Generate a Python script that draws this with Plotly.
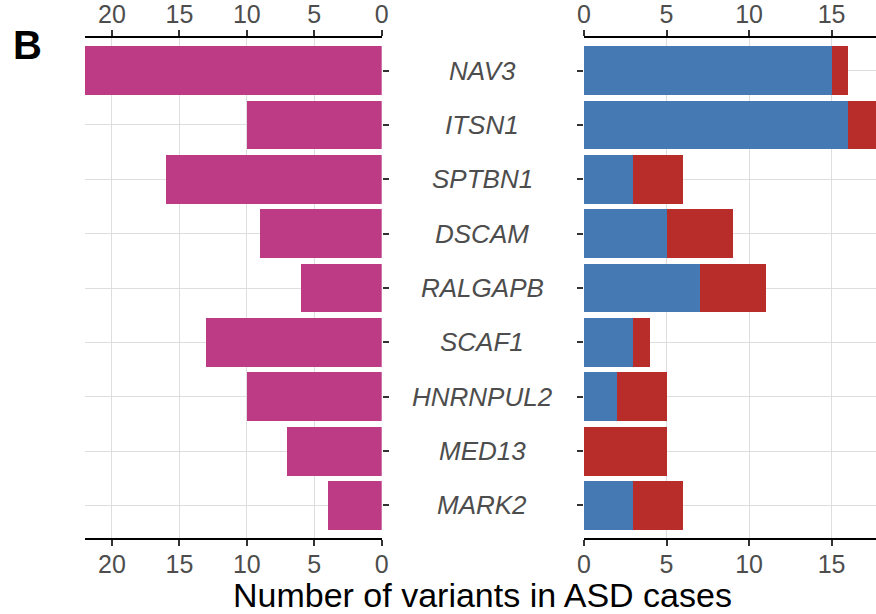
import plotly.graph_objects as go

genes = ["NAV3", "ITSN1", "SPTBN1", "DSCAM", "RALGAPB", "SCAF1", "HNRNPUL2", "MED13", "MARK2"]
left_counts = [22, 10, 16, 9, 6, 13, 10, 7, 4]
right_blue = [15, 16, 3, 5, 7, 3, 2, 0, 3]
right_red = [1, 2, 3, 4, 4, 1, 3, 5, 3]
x_ticks = [0, 5, 10, 15, 20]
panel_label = "B"
x_title = "Number of variants in ASD cases"

PINK = "#BD3B85"
BLUE = "#4479B3"
RED = "#B82D29"
GRID = "#DEDEDE"
TICKCOL = "#4D4D4D"
FONT = "Liberation Sans, Arial, sans-serif"

fig = go.Figure()

# left panel: reversed horizontal bars
fig.add_trace(go.Bar(y=genes, x=left_counts, orientation="h", marker_color=PINK,
                     marker_line_width=0, width=0.9, xaxis="x", yaxis="y", showlegend=False))
# right panel: stacked bars
fig.add_trace(go.Bar(y=genes, x=right_blue, orientation="h", marker_color=BLUE,
                     marker_line_width=0, width=0.9, xaxis="x2", yaxis="y2", showlegend=False))
fig.add_trace(go.Bar(y=genes, x=right_red, orientation="h", marker_color=RED,
                     marker_line_width=0, width=0.9, xaxis="x2", yaxis="y2", showlegend=False))

# invisible carriers for the top axes
fig.add_trace(go.Scatter(y=genes, x=left_counts, mode="markers", marker_opacity=0,
                         hoverinfo="skip", xaxis="x3", yaxis="y", showlegend=False))
fig.add_trace(go.Scatter(y=genes, x=right_blue, mode="markers", marker_opacity=0,
                         hoverinfo="skip", xaxis="x4", yaxis="y2", showlegend=False))

left_dom = [0.0, 0.3751]
right_dom = [0.6308, 1.0]
left_range = [22.0, 0]
right_range = [0, 17.69]
y_range = [8.6, -0.6]

tickfont = dict(family=FONT, size=25, color=TICKCOL)

def xax(domain, rng, side, anchor, overlaying=None, grid=True):
    d = dict(domain=domain, range=rng, side=side, anchor=anchor,
             tickmode="array", tickvals=x_ticks, ticktext=[str(t) for t in x_ticks],
             showline=True, linecolor="black", linewidth=2,
             ticks="outside", ticklen=6, tickwidth=2, tickcolor="#333333",
             tickfont=tickfont, showgrid=grid, gridcolor=GRID, gridwidth=1,
             zeroline=False, fixedrange=True, ticklabelstandoff=-3, automargin=False)
    if overlaying:
        d["overlaying"] = overlaying
    return d

def yax(anchor, side):
    return dict(type="category", categoryorder="array", categoryarray=genes,
                range=y_range, anchor=anchor, side=side, showticklabels=False,
                ticks="outside", ticklen=6, tickwidth=2, tickcolor="#333333",
                showgrid=True, gridcolor=GRID, gridwidth=1, showline=False,
                zeroline=False, fixedrange=True, automargin=False)

fig.update_layout(
    width=876, height=614,
    margin=dict(l=85, r=0, t=38, b=76, autoexpand=False),
    paper_bgcolor="white", plot_bgcolor="white",
    barmode="stack",
    xaxis=xax(left_dom, left_range, "bottom", "y"),
    xaxis2=xax(right_dom, right_range, "bottom", "y2"),
    xaxis3=xax(left_dom, left_range, "top", "y", overlaying="x", grid=False),
    xaxis4=xax(right_dom, right_range, "top", "y2", overlaying="x2", grid=False),
    yaxis=yax("x", "right"),
    yaxis2=yax("x2", "left"),
)

# gene names centred between the panels
for g in genes:
    fig.add_annotation(x=0.502, xref="paper", y=g, yref="y", text=f"<i>{g}</i>",
                       showarrow=False, xanchor="center", yanchor="middle",
                       font=dict(family=FONT, size=26, color=TICKCOL))

fig.add_annotation(x=0.502, xref="paper", y=-0.114, yref="paper", text=x_title,
                   showarrow=False, xanchor="center", yanchor="middle",
                   font=dict(family=FONT, size=34, color="black"))

fig.add_annotation(x=-0.094, xref="paper", y=0.986, yref="paper", text=f"<b>{panel_label}</b>",
                   showarrow=False, xanchor="left", yanchor="middle",
                   font=dict(family=FONT, size=40, color="black"))

fig.write_html("out.html")
